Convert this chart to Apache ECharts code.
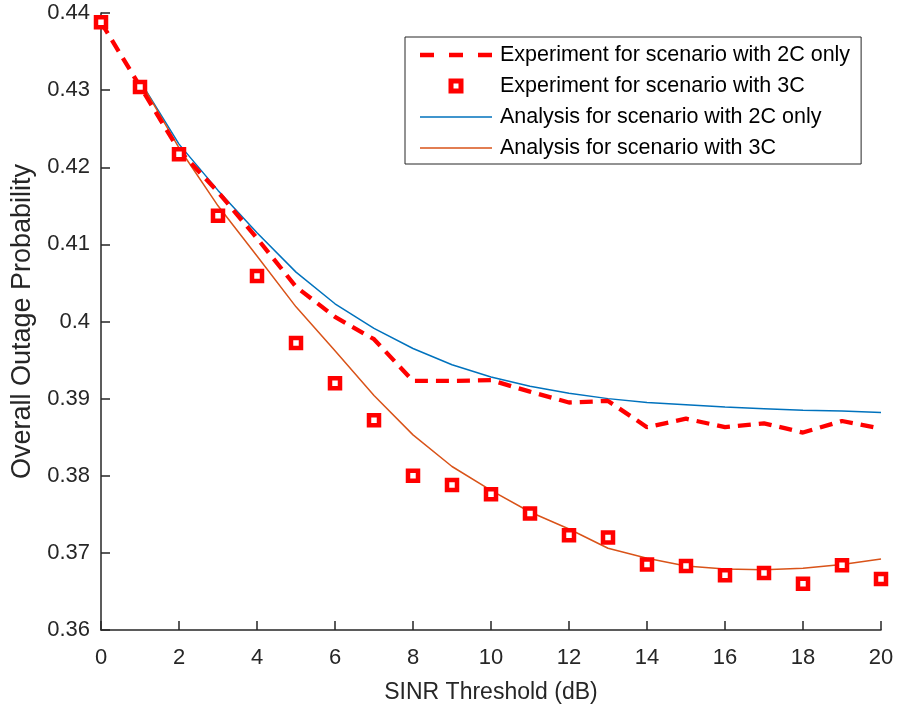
<!DOCTYPE html>
<html><head><meta charset="utf-8">
<script src="https://cdn.jsdelivr.net/npm/echarts@6/dist/echarts.min.js"></script>
<style>html,body{margin:0;padding:0;background:#fff}#c{width:897px;height:709px}</style>
</head><body><div id="c"></div>
<script>
const xs = [0,1,2,3,4,5,6,7,8,9,10,11,12,13,14,15,16,17,18,19,20];
const exp2C = [0.4388,0.4305,0.4222,0.4168,0.4108,0.4045,0.4006,0.3977,0.3923,0.3923,0.3924,0.3909,0.3895,0.3897,0.3863,0.3874,0.3863,0.3868,0.3856,0.3871,0.3861];
const exp3C = [0.4388,0.4304,0.4217,0.4137,0.4059,0.3972,0.3920,0.3872,0.3800,0.3788,0.3776,0.3751,0.3723,0.3720,0.3685,0.3683,0.3671,0.3674,0.3660,0.3684,0.3666];
const anaX = [1,2,3,4,5,6,7,8,9,10,11,12,13,14,15,16,17,18,19,20];
const ana2C = [0.4312,0.4230,0.4170,0.4115,0.4064,0.4023,0.3991,0.3965,0.3944,0.3928,0.3916,0.3907,0.3900,0.3895,0.3892,0.3889,0.3887,0.3885,0.3884,0.3882];
const ana3C = [0.4312,0.4225,0.4150,0.4085,0.4019,0.3962,0.3904,0.3853,0.3812,0.3781,0.3753,0.3731,0.3706,0.3693,0.3683,0.3679,0.3678,0.3680,0.3685,0.3692];
const names = ['Experiment for scenario with 2C only','Experiment for scenario with 3C','Analysis for scenario with 2C only','Analysis for scenario with 3C'];
const xTicks = {min:0,max:20,interval:2};
const yTicks = {min:0.36,max:0.44,interval:0.01};

const pair = (x,y)=>x.map((v,i)=>[v,y[i]]);
const FONT = '"Liberation Sans", Arial, sans-serif';
const AX = '#262626';
const RED = '#FF0000', BLUE = '#0072BD', ORANGE = '#D95319';
const ICON_DASH = 'path://M0,0h14v4.3h-14z M29,0h14v4.3h-14z M58,0h14v4.3h-14z';
const ICON_SQ = 'path://M0,0 M72,15 M28.5,0h15v15h-15z M33.5,5v5h5v-5z';
const ICON_LINE = 'path://M0,0h72v1.6h-72z';

const chart = echarts.init(document.getElementById('c'));
chart.setOption({
  animation:false,
  backgroundColor:'#fff',
  textStyle:{fontFamily:FONT},
  grid:{left:101,right:16,top:13,bottom:79},
  xAxis:{type:'value',min:xTicks.min,max:xTicks.max,interval:xTicks.interval,
    name:'SINR Threshold (dB)',nameLocation:'middle',nameGap:51,
    nameTextStyle:{fontSize:23,color:AX,fontFamily:FONT},
    axisLine:{show:true,lineStyle:{color:AX,width:1.5}},
    axisTick:{show:true,inside:true,length:9,lineStyle:{color:AX,width:1.5}},
    axisLabel:{fontSize:22,color:AX,margin:17,fontFamily:FONT},
    splitLine:{show:false}},
  yAxis:{type:'value',min:yTicks.min,max:yTicks.max,interval:yTicks.interval,
    name:'Overall Outage Probability',nameLocation:'middle',nameGap:64,
    nameTextStyle:{fontSize:27,color:AX,fontFamily:FONT},
    axisLine:{show:true,lineStyle:{color:AX,width:1.5}},
    axisTick:{show:true,inside:true,length:9,lineStyle:{color:AX,width:1.5}},
    axisLabel:{fontSize:22,color:AX,margin:11,fontFamily:FONT},
    splitLine:{show:false}},
  legend:{orient:'vertical',left:405,top:37,
    backgroundColor:'#fff',borderColor:AX,borderWidth:1,borderRadius:0,
    padding:[7,11,5,15],itemWidth:72,itemHeight:15,itemGap:9,
    textStyle:{fontSize:21.5,color:'#000',fontFamily:FONT,lineHeight:21,padding:[0,0,0,3]},
    data:[
      {name:names[0],icon:ICON_DASH,itemStyle:{color:RED,borderWidth:0}},
      {name:names[1],icon:ICON_SQ,itemStyle:{color:RED,borderWidth:0}},
      {name:names[2],icon:ICON_LINE,itemStyle:{color:BLUE,borderWidth:0}},
      {name:names[3],icon:ICON_LINE,itemStyle:{color:ORANGE,borderWidth:0}}
    ]},
  series:[
    {name:names[2],type:'line',data:pair(anaX,ana2C),symbol:'none',z:2,
      lineStyle:{color:BLUE,width:1.5},itemStyle:{color:BLUE}},
    {name:names[3],type:'line',data:pair(anaX,ana3C),symbol:'none',z:2,
      lineStyle:{color:ORANGE,width:1.5},itemStyle:{color:ORANGE}},
    {name:names[0],type:'line',data:pair(xs,exp2C),symbol:'none',z:3,
      lineStyle:{color:RED,width:4.3,type:[13,8]},itemStyle:{color:RED}},
    {name:names[1],type:'scatter',data:pair(xs,exp3C),symbol:'rect',symbolSize:10,z:4,clip:false,
      itemStyle:{color:'#fff',borderColor:RED,borderWidth:4.5,opacity:1}}
  ]
});
</script></body></html>
